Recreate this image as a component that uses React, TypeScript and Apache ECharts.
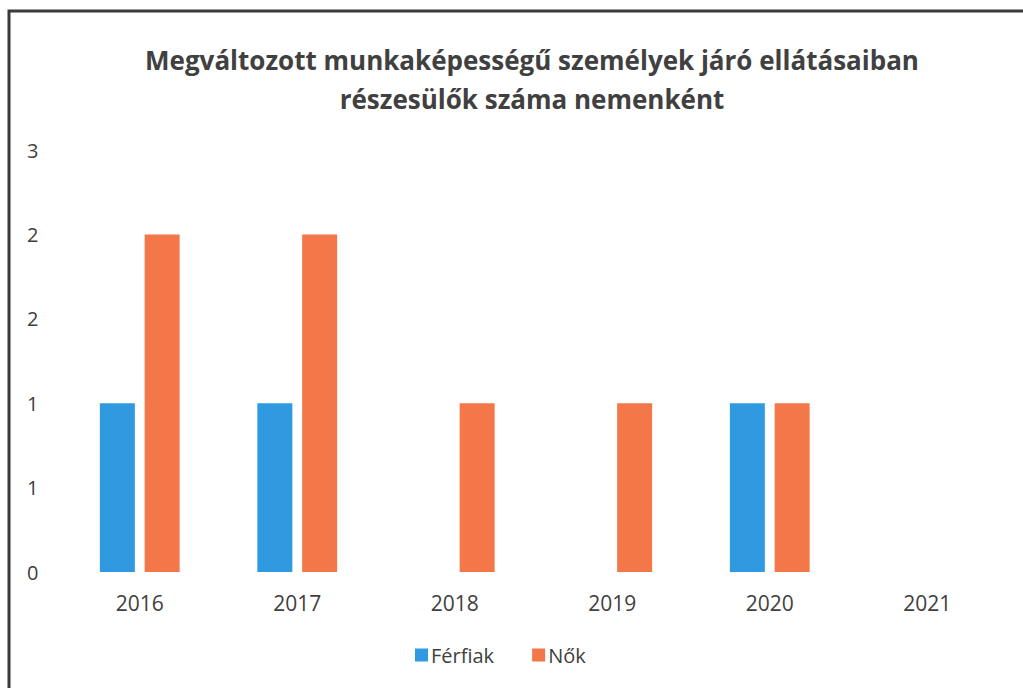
import React, { useEffect, useRef } from "react";
import * as echarts from "echarts";

const categories = ["2016", "2017", "2018", "2019", "2020", "2021"];
const ferfiak = [1, 1, 0, 0, 1, 0];
const nok = [2, 2, 1, 1, 1, 0];
const titleText = "Megváltozott munkaképességű személyek járó ellátásaiban\nrészesülők száma nemenként";

export default function App() {
  const ref = useRef<HTMLDivElement>(null);
  useEffect(() => {
    document.body.style.margin = "0";
    const chart = echarts.init(ref.current!, undefined, { renderer: "svg" });
    const font = "'Open Sans', sans-serif";
    chart.setOption({
      animation: false,
      backgroundColor: "#ffffff",
      title: {
        text: titleText,
        left: 527,
        top: 35,
        textAlign: "center",
        textStyle: { fontFamily: font, fontWeight: "bold", fontSize: 26, color: "#404040", lineHeight: 39 },
      },
      graphic: [
        {
          type: "rect",
          shape: { x: 9, y: 11, width: 1200, height: 900 },
          style: { fill: "none", stroke: "#3a3a3a", lineWidth: 3 },
          silent: true,
        },
      ],
      legend: {
        bottom: 18,
        left: 410,
        itemWidth: 13,
        itemHeight: 13,
        itemGap: 38,
        icon: "rect",
        textStyle: { fontFamily: font, fontSize: 20, color: "#404040", padding: [0, 0, 0, -2] },
        data: ["Férfiak", "Nők"],
      },
      grid: { left: 61, right: 17, top: 150, bottom: 116, containLabel: false },
      xAxis: {
        type: "category",
        data: categories,
        axisLine: { show: false },
        axisTick: { show: false },
        axisLabel: { fontFamily: font, fontSize: 21, color: "#404040", margin: 20 },
      },
      yAxis: {
        type: "value",
        min: 0,
        max: 2.5,
        interval: 0.5,
        splitLine: { show: false },
        axisLine: { show: false },
        axisTick: { show: false },
        axisLabel: {
          fontFamily: font,
          fontSize: 20,
          color: "#404040",
          align: "left",
          margin: 34,
          formatter: (v: number) => String(Math.round(v)),
        },
      },
      series: [
        {
          name: "Férfiak",
          type: "bar",
          data: ferfiak,
          barWidth: 35,
          barGap: "28%",
          itemStyle: { color: "#2f9ae0" },
        },
        {
          name: "Nők",
          type: "bar",
          data: nok,
          barWidth: 35,
          itemStyle: { color: "#f4774a" },
        },
      ],
    });
    return () => chart.dispose();
  }, []);
  return <div ref={ref} style={{ width: 1023, height: 688 }} />;
}
